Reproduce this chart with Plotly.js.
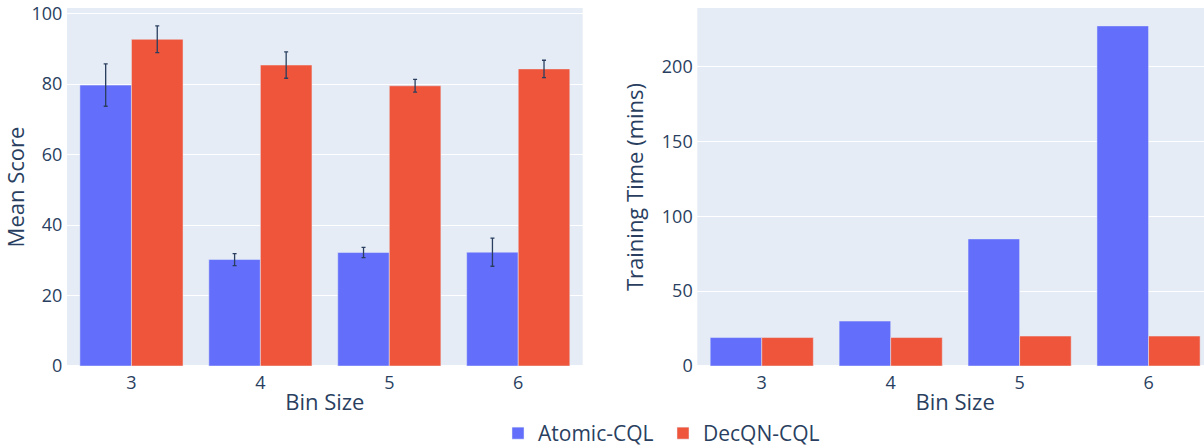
<!DOCTYPE html>
<html>
<head>
<meta charset="utf-8">
<script src="https://cdn.plot.ly/plotly-3.0.1.min.js"></script>
<style>
html,body{margin:0;padding:0;overflow:hidden;background:#fff;}
#chart{width:1213px;height:447px;}
</style>
</head>
<body>
<div id="chart"></div>
<script>
const binSizes = ['3', '4', '5', '6'];
const atomicScore = [79.7, 30.2, 32.2, 32.3];
const atomicScoreErr = [6.0, 1.7, 1.45, 4.0];
const decqnScore = [92.7, 85.4, 79.5, 84.3];
const decqnScoreErr = [3.8, 3.75, 1.8, 2.45];
const atomicTime = [19.0, 30.0, 84.9, 227.2];
const decqnTime = [19.0, 19.0, 20.0, 20.0];

const blue = '#636efa', red = '#EF553B';
const errStyle = {type: 'data', visible: true, color: '#2a3f5f', thickness: 1.3, width: 2};
const lineStyle = {color: '#E5ECF6', width: 0.5};

const data = [
  {type: 'bar', name: 'Atomic-CQL', x: binSizes, y: atomicScore, xaxis: 'x', yaxis: 'y',
   marker: {color: blue, line: lineStyle}, error_y: Object.assign({array: atomicScoreErr}, errStyle),
   legendgroup: 'a', showlegend: true},
  {type: 'bar', name: 'DecQN-CQL', x: binSizes, y: decqnScore, xaxis: 'x', yaxis: 'y',
   marker: {color: red, line: lineStyle}, error_y: Object.assign({array: decqnScoreErr}, errStyle),
   legendgroup: 'd', showlegend: true},
  {type: 'bar', name: 'Atomic-CQL', x: binSizes, y: atomicTime, xaxis: 'x2', yaxis: 'y2',
   marker: {color: blue, line: lineStyle}, legendgroup: 'a', showlegend: false},
  {type: 'bar', name: 'DecQN-CQL', x: binSizes, y: decqnTime, xaxis: 'x2', yaxis: 'y2',
   marker: {color: red, line: lineStyle}, legendgroup: 'd', showlegend: false}
];

const axisCommon = {gridcolor: 'white', linecolor: 'white', zerolinecolor: 'white', zerolinewidth: 2,
  ticks: '', automargin: false};

const layout = {
  width: 1213, height: 447,
  margin: {l: 67, r: 0, t: 8, b: 81, autoexpand: false},
  paper_bgcolor: 'white', plot_bgcolor: '#E5ECF6',
  font: {family: '"Open Sans", verdana, arial, sans-serif', size: 18, color: '#2a3f5f'},
  barmode: 'group',
  bargap: 0.2, bargroupgap: 0,
  showlegend: true,
  legend: {orientation: 'h', x: 0.3761, xanchor: 'left', y: -88 / 358, yanchor: 'bottom',
    entrywidth: 120, entrywidthmode: 'pixels',
    font: {size: 21}, bgcolor: 'rgba(0,0,0,0)'},
  xaxis: Object.assign({}, axisCommon, {domain: [0, 0.45], anchor: 'y', type: 'category', showgrid: false,
    title: {text: 'Bin Size', standoff: 2}}),
  yaxis: Object.assign({}, axisCommon, {domain: [0, 1], anchor: 'x', rangemode: 'tozero',
    title: {text: 'Mean Score'}}),
  xaxis2: Object.assign({}, axisCommon, {domain: [0.55, 1], anchor: 'y2', type: 'category', showgrid: false,
    title: {text: 'Bin Size', standoff: 2}}),
  yaxis2: Object.assign({}, axisCommon, {domain: [0, 1], anchor: 'x2', rangemode: 'tozero',
    title: {text: 'Training Time (mins)'}})
};

Plotly.newPlot('chart', data, layout, {displayModeBar: false, responsive: false});
</script>
</body>
</html>
